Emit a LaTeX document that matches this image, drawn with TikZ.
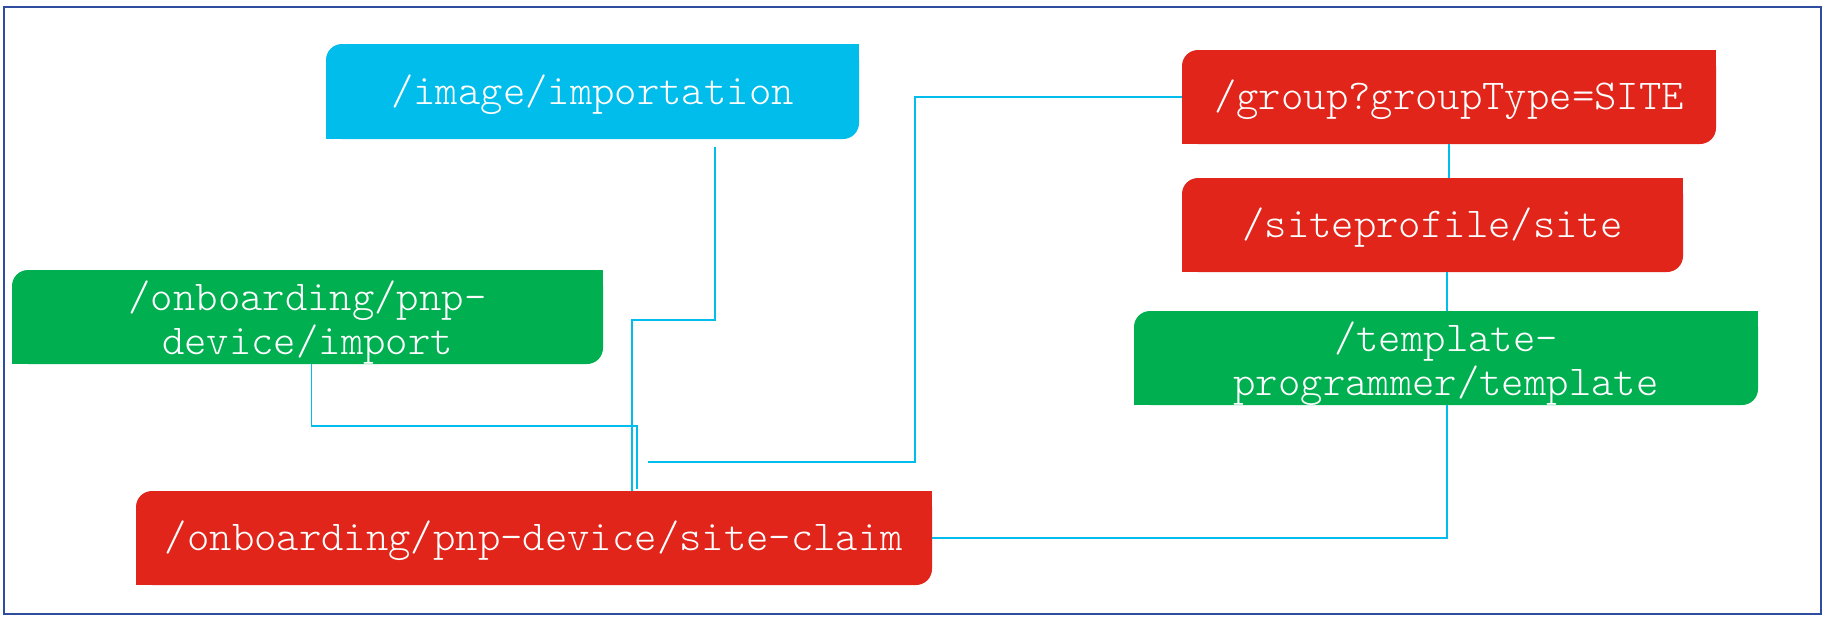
\documentclass[tikz,border=0pt]{standalone}
\usepackage{fontspec}
\setmonofont{Latin Modern Mono Light}
\definecolor{cyanc}{HTML}{00BDEB}
\definecolor{greenc}{HTML}{00AF50}
\definecolor{redc}{HTML}{E1251B}
\definecolor{bordc}{HTML}{2E4D9E}
\tikzset{
  apitext/.style={text=white, font=\ttfamily\fontsize{21.3}{22}\selectfont, align=center, inner sep=0pt},
  apiarea/.style={inner sep=0pt, outer sep=0pt},
  conn/.style={draw=cyanc, line width=0.8pt},
}
\newcommand\apibox[8]{%
  \fill[#2, rounded corners=8pt] (#3,#4) rectangle (#5,#6);
  \fill[#2] (#5-16,#4) rectangle (#5,#4+16);
  \fill[#2] (#3,#6-16) rectangle (#3+16,#6);
  \node[apiarea, minimum width={(#5-#3)*0.5pt}, minimum height={(#6-#4)*0.5pt}] (#1) at ({(#3+#5)/2},{(#4+#6)/2}) {};
  \node[apitext] (#1t) at ({(#3+#5)/2},{(#4+#6)/2+#7}) {#8};
}
\begin{document}
\begin{tikzpicture}[x=0.5pt,y=-0.5pt]
\useasboundingbox (0,0) rectangle (1826,617);
\draw[bordc, line width=1pt] (4,7) rectangle (1821,614);

\apibox{img}{cyanc}{326}{44}{859}{139}{3}{/image/importation}
\apibox{imp}{greenc}{12}{270}{603}{364}{6}{/onboarding/pnp-\\device/import}
\apibox{sc}{redc}{136}{491}{932}{585}{3}{/onboarding/pnp-device/site-claim}
\apibox{grp}{redc}{1182}{50}{1716}{144}{3}{/group?groupType=SITE}
\apibox{sp}{redc}{1182}{178}{1683}{272}{3}{/siteprofile/site}
\apibox{tpl}{greenc}{1134}{311}{1758}{405}{6}{/template-\\programmer/template}

\coordinate (i1) at (715,147);
\coordinate (i2) at (632,320);
\draw[conn] (i1) |- (i2) -- (i2 |- sc.north);

\coordinate (m1) at (637,426);
\coordinate (m2) at (637,489);
\draw[conn] ([xshift=2pt]imp.south) |- (m1) -- (m2);

\coordinate (g1) at (915,462);
\coordinate (g2) at (648,462);
\draw[conn] (grp.west) -| (g1) -- (g2);

\draw[conn] (grp.south) -- (grp.south |- sp.north);
\draw[conn] ([xshift=0.5pt]tpl.north) -- ([xshift=0.5pt]tpl.north |- sp.south);
\draw[conn] ([xshift=0.5pt]tpl.south) |- (sc.east);
\end{tikzpicture}
\end{document}
